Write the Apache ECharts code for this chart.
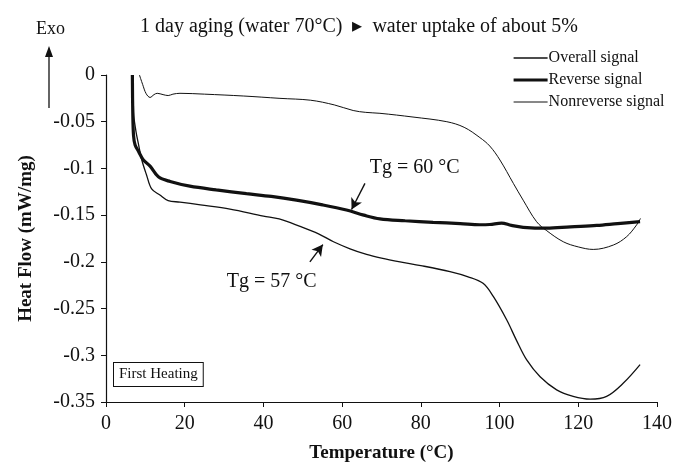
<!DOCTYPE html>
<html>
<head>
<meta charset="utf-8">
<script src="https://cdn.jsdelivr.net/npm/echarts@6/dist/echarts.min.js"></script>
<style>
html,body{margin:0;padding:0;background:#fff;}
#c{width:677px;height:468px;}
</style>
</head>
<body>
<div id="c"></div>
<script>
// ---- data ----
const seriesNames = ['Overall signal', 'Reverse signal', 'Nonreverse signal'];

const overallT = [6.9, 7.0, 7.6, 8.2, 9.1, 10.3, 11.6, 13.7, 15.8, 18.8, 24, 31.5, 40, 44, 49.3, 54, 57.8, 62, 66.2, 70, 74.7, 80, 87.4, 92, 95.8, 98.4, 101.8, 104.3, 106.9, 110.3, 114.5, 118.7, 123, 127.2, 131.4, 135.7];
const overallV = [0, -0.04, -0.06, -0.073, -0.091, -0.107, -0.122, -0.1285, -0.1345, -0.136, -0.139, -0.1435, -0.151, -0.154, -0.162, -0.170, -0.1785, -0.186, -0.192, -0.196, -0.200, -0.204, -0.2105, -0.216, -0.223, -0.237, -0.262, -0.284, -0.305, -0.323, -0.337, -0.344, -0.347, -0.344, -0.330, -0.310];

const reverseT = [6.7, 6.8, 7.0, 7.4, 8.3, 9.5, 11.2, 13.3, 16.3, 21.3, 28, 35.7, 42, 48.4, 55, 61.1, 65.5, 69.6, 76, 83.1, 90, 95, 97.5, 100.5, 103, 106, 112, 118, 124.7, 130, 135.7];
const reverseV = [0, -0.04, -0.065, -0.075, -0.082, -0.091, -0.0975, -0.109, -0.114, -0.119, -0.123, -0.127, -0.130, -0.134, -0.139, -0.1445, -0.150, -0.154, -0.156, -0.1577, -0.159, -0.1603, -0.160, -0.1585, -0.161, -0.163, -0.164, -0.1625, -0.161, -0.159, -0.157];

const nonrevT = [8.5, 9.3, 10.2, 11.2, 12.2, 13, 14.5, 15.8, 17, 18.8, 25, 35, 44.2, 52, 58, 62.8, 66, 69.6, 78, 86.6, 91, 95, 97.5, 100.1, 103.5, 106, 109.4, 112, 116.2, 120, 123.8, 128.9, 132.3, 134.8, 135.8];
const nonrevV = [0, -0.01, -0.02, -0.024, -0.021, -0.0196, -0.021, -0.022, -0.0205, -0.0196, -0.0205, -0.0225, -0.025, -0.027, -0.032, -0.038, -0.040, -0.041, -0.045, -0.050, -0.056, -0.067, -0.076, -0.091, -0.116, -0.134, -0.157, -0.1667, -0.1785, -0.184, -0.1867, -0.182, -0.173, -0.1606, -0.1535];

const xTicks = [0, 20, 40, 60, 80, 100, 120, 140];
const yTicks = [0, -0.05, -0.1, -0.15, -0.2, -0.25, -0.3, -0.35];
const yTickLabels = ['0', '-0.05', '-0.1', '-0.15', '-0.2', '-0.25', '-0.3', '-0.35'];

// annotations: [text, labelT, labelV, arrowFromT, arrowFromV, arrowToT, arrowToV]
const tg60 = ['Tg = 60 °C', 67, -0.0996, 65.8, -0.116, 62.4, -0.1440];
const tg57 = ['Tg = 57 °C', 30.7, -0.221, 51.8, -0.200, 55.1, -0.1815];

// ---- chart ----
const pair = (xs, ys) => xs.map((x, i) => [x, ys[i]]);
const FONT = '"Liberation Serif", "Times New Roman", serif';
const INK = '#111';
const widths = [1.3, 3.2, 1.0];

function annot(a) {
  return {
    markPoint: {
      silent: true,
      symbol: 'circle', symbolSize: 0,
      label: { show: true, position: 'right', distance: 0, formatter: a[0],
        fontFamily: FONT, fontSize: 20, color: INK },
      data: [{ coord: [a[1], a[2]] }]
    },
    markLine: {
      silent: true,
      symbol: ['none', 'arrow'], symbolSize: [9, 11],
      label: { show: false },
      lineStyle: { color: INK, width: 1.4, type: 'solid' },
      data: [[{ coord: [a[3], a[4]] }, { coord: [a[5], a[6]] }]]
    }
  };
}

function lineSeries(i, data) {
  return {
    name: seriesNames[i], type: 'line', data: data,
    showSymbol: false, symbol: 'none', smooth: 0.35,
    lineStyle: { color: INK, width: widths[i] }, itemStyle: { color: INK }
  };
}

const chart = echarts.init(document.getElementById('c'), null, { renderer: 'canvas' });
const option = {
  backgroundColor: '#fff',
  animation: false,
  textStyle: { fontFamily: FONT, color: INK },
  title: {
    text: '1 day aging (water 70°C)  \u25B8  water uptake of about 5%',
    left: 135, top: 12,
    textStyle: { fontFamily: FONT, fontSize: 20, fontWeight: 'normal', color: INK }
  },
  legend: {
    orient: 'vertical',
    left: 507, top: 45,
    itemWidth: 34, itemHeight: 14, itemGap: 6,
    itemStyle: { opacity: 0 },
    textStyle: { fontFamily: FONT, fontSize: 16, color: INK, padding: [0, 0, 0, -4] },
    data: seriesNames.map((n, i) => ({ name: n, lineStyle: { color: INK, width: widths[i] } }))
  },
  grid: { left: 106, right: 20, top: 75, bottom: 66, containLabel: false },
  xAxis: {
    type: 'value', min: xTicks[0], max: xTicks[xTicks.length - 1], interval: 20,
    name: 'Temperature (°C)', nameLocation: 'middle', nameGap: 42,
    nameTextStyle: { fontFamily: FONT, fontSize: 19, fontWeight: 'bold', color: INK },
    axisLine: { show: true, onZero: false, lineStyle: { color: INK, width: 1.2 } },
    axisTick: { show: true, inside: false, length: 5, lineStyle: { color: INK } },
    axisLabel: { fontFamily: FONT, fontSize: 20, color: INK, margin: 12 },
    splitLine: { show: false }
  },
  yAxis: {
    type: 'value', min: -0.35, max: 0, interval: 0.05,
    name: 'Heat Flow (mW/mg)', nameLocation: 'middle', nameGap: 70,
    nameTextStyle: { fontFamily: FONT, fontSize: 19, fontWeight: 'bold', color: INK },
    axisLine: { show: true, onZero: false, lineStyle: { color: INK, width: 1.2 } },
    axisTick: { show: true, inside: false, length: 5, lineStyle: { color: INK } },
    axisLabel: {
      fontFamily: FONT, fontSize: 20, color: INK, margin: 11,
      formatter: v => {
        const i = yTicks.findIndex(t => Math.abs(t - v) < 1e-9);
        return i >= 0 ? yTickLabels[i] : '';
      }
    },
    splitLine: { show: false }
  },
  series: [
    Object.assign(lineSeries(0, pair(overallT, overallV)), annot(tg57)),
    Object.assign(lineSeries(1, pair(reverseT, reverseV)), annot(tg60)),
    lineSeries(2, pair(nonrevT, nonrevV))
  ],
  graphic: [
    { type: 'text', left: 36, top: 20, style: { text: 'Exo', font: '18px ' + FONT, fill: INK } },
    { type: 'line', shape: { x1: 49, y1: 108, x2: 49, y2: 56 }, style: { stroke: INK, lineWidth: 1.3 } },
    { type: 'polygon', shape: { points: [[49, 46], [45, 57], [53, 57]] }, style: { fill: INK } },
    { type: 'text', left: 113, top: 362,
      style: { text: 'First Heating', font: '15px ' + FONT, fill: INK,
        borderColor: INK, borderWidth: 1, padding: [4, 5, 4, 5], backgroundColor: '#fff' } }
  ]
};
chart.setOption(option);
</script>
</body>
</html>
